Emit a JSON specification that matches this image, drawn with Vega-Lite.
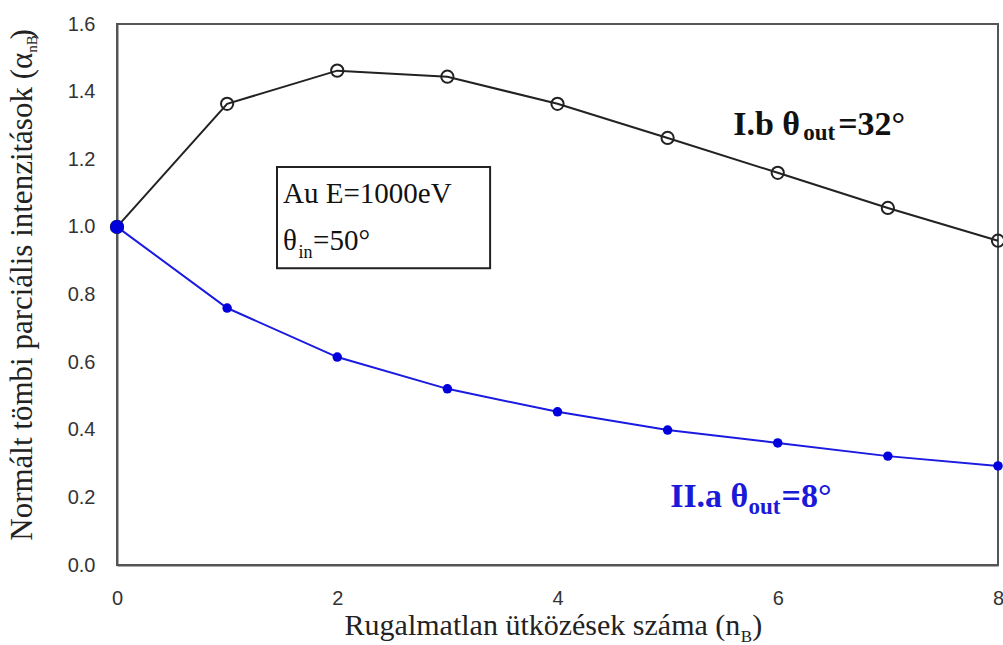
{
  "$schema": "https://vega.github.io/schema/vega-lite/v6.json",
  "width": 881,
  "height": 541,
  "autosize": "none",
  "padding": {"left": 117, "top": 24, "right": 5, "bottom": 80},
  "background": "white",
  "config": {"view": {"stroke": "#555555", "strokeWidth": 2}},
  "datasets": {
    "series": [
      {"x": 0, "y": 1.0, "series": "I.b"},
      {"x": 1, "y": 1.364, "series": "I.b"},
      {"x": 2, "y": 1.462, "series": "I.b"},
      {"x": 3, "y": 1.444, "series": "I.b"},
      {"x": 4, "y": 1.364, "series": "I.b"},
      {"x": 5, "y": 1.263, "series": "I.b"},
      {"x": 6, "y": 1.160, "series": "I.b"},
      {"x": 7, "y": 1.056, "series": "I.b"},
      {"x": 8, "y": 0.959, "series": "I.b"},
      {"x": 0, "y": 1.0, "series": "II.a"},
      {"x": 1, "y": 0.760, "series": "II.a"},
      {"x": 2, "y": 0.615, "series": "II.a"},
      {"x": 3, "y": 0.521, "series": "II.a"},
      {"x": 4, "y": 0.453, "series": "II.a"},
      {"x": 5, "y": 0.399, "series": "II.a"},
      {"x": 6, "y": 0.361, "series": "II.a"},
      {"x": 7, "y": 0.322, "series": "II.a"},
      {"x": 8, "y": 0.293, "series": "II.a"}
    ],
    "yMajor": [
      {"y": 0}, {"y": 0.2}, {"y": 0.4}, {"y": 0.6}, {"y": 0.8}, {"y": 1.0}, {"y": 1.2}, {"y": 1.4}, {"y": 1.6}
    ],
    "yMinor": [
      {"y": 0.04}, {"y": 0.08}, {"y": 0.12}, {"y": 0.16},
      {"y": 0.24}, {"y": 0.28}, {"y": 0.32}, {"y": 0.36},
      {"y": 0.44}, {"y": 0.48}, {"y": 0.52}, {"y": 0.56},
      {"y": 0.64}, {"y": 0.68}, {"y": 0.72}, {"y": 0.76},
      {"y": 0.84}, {"y": 0.88}, {"y": 0.92}, {"y": 0.96},
      {"y": 1.04}, {"y": 1.08}, {"y": 1.12}, {"y": 1.16},
      {"y": 1.24}, {"y": 1.28}, {"y": 1.32}, {"y": 1.36},
      {"y": 1.44}, {"y": 1.48}, {"y": 1.52}, {"y": 1.56}
    ],
    "xMajor": [{"x": 0}, {"x": 2}, {"x": 4}, {"x": 6}, {"x": 8}],
    "box": [{"x": 1.453, "x2": 3.388, "y": 1.177, "y2": 0.878}],
    "boxText": [
      {"x": 1.508, "y": 1.071, "text": "Au E=1000eV"},
      {"x": 1.508, "y": 0.932, "text": "θ"},
      {"x": 1.78, "y": 0.932, "text": "=50°"}
    ],
    "boxSub": [{"x": 1.647, "y": 0.908, "text": "in"}],
    "blackLabel": [
      {"x": 5.595, "y": 1.272, "text": "I.b θ"},
      {"x": 6.549, "y": 1.272, "text": "=32°"}
    ],
    "blackSub": [{"x": 6.231, "y": 1.257, "text": "out"}],
    "blueLabel": [
      {"x": 5.023, "y": 0.1715, "text": "II.a θ"},
      {"x": 6.035, "y": 0.1715, "text": "=8°"}
    ],
    "blueSub": [{"x": 5.735, "y": 0.150, "text": "out"}],
    "xTitle": [
      {"x": 5.66, "y": -0.208, "text": "Rugalmatlan ütközések száma (n"},
      {"x": 5.86, "y": -0.208, "text": ")"}
    ],
    "xTitleSub": [{"x": 5.665, "y": -0.229, "text": "B"}],
    "yTitle": [
      {"x": -0.77, "y": 1.515, "text": "Normált tömbi parciális intenzitások (α"},
      {"x": -0.77, "y": 1.585, "text": ")"}
    ],
    "yTitleSub": [{"x": -0.73, "y": 1.515, "text": "nB"}]
  },
  "encoding": {
    "x": {
      "field": "x", "type": "quantitative",
      "scale": {"domain": [0, 8], "nice": false},
      "axis": {
        "values": [0, 2, 4, 6, 8],
        "format": "d",
        "title": null,
        "grid": false,
        "ticks": false,
        "domainColor": "#555555",
        "domainWidth": 2,
        "labelFont": "Liberation Sans",
        "labelFontSize": 20,
        "labelColor": "#333333",
        "labelPadding": 23,
        "labelFlush": false
      }
    },
    "y": {
      "field": "y", "type": "quantitative",
      "scale": {"domain": [0, 1.6], "nice": false},
      "axis": {
        "values": [0, 0.2, 0.4, 0.6, 0.8, 1.0, 1.2, 1.4, 1.6],
        "format": ".1f",
        "title": null,
        "grid": false,
        "ticks": false,
        "domainColor": "#555555",
        "domainWidth": 2,
        "labelFont": "Liberation Sans",
        "labelFontSize": 20,
        "labelColor": "#333333",
        "labelPadding": 22,
        "labelOverlap": false,
        "labelBound": false
      }
    }
  },
  "layer": [
    {
      "data": {"name": "yMajor"},
      "mark": {"type": "tick", "orient": "horizontal", "size": 19, "thickness": 2, "color": "#555555", "opacity": 1},
      "encoding": {
        "x": {"datum": -0.0863}
      }
    },
    {
      "data": {"name": "yMinor"},
      "mark": {"type": "tick", "orient": "horizontal", "size": 11, "thickness": 2, "color": "#555555", "opacity": 1},
      "encoding": {
        "x": {"datum": -0.041}
      }
    },
    {
      "data": {"name": "xMajor"},
      "mark": {"type": "tick", "orient": "vertical", "size": 15, "thickness": 2, "color": "#555555", "opacity": 1},
      "encoding": {
        "y": {"datum": -0.0222}
      }
    },
    {
      "data": {"name": "series"},
      "mark": {"type": "line", "strokeWidth": 2},
      "encoding": {
        "color": {
          "field": "series", "type": "nominal",
          "scale": {"domain": ["I.b", "II.a"], "range": ["#222222", "#1a1ae0"]},
          "legend": null
        }
      }
    },
    {
      "data": {"name": "series"},
      "transform": [{"filter": "datum.series == 'I.b'"}],
      "mark": {"type": "point", "shape": "circle", "filled": false, "size": 150, "stroke": "#222222", "strokeWidth": 2, "fill": "white", "fillOpacity": 0}
    },
    {
      "data": {"name": "series"},
      "transform": [{"filter": "datum.series == 'II.a' && datum.x > 0"}],
      "mark": {"type": "point", "shape": "circle", "filled": true, "size": 90, "color": "#0000dd", "opacity": 1}
    },
    {
      "data": {"name": "series"},
      "transform": [{"filter": "datum.series == 'II.a' && datum.x == 0"}],
      "mark": {"type": "point", "shape": "circle", "filled": true, "size": 190, "color": "#0000dd", "opacity": 1}
    },
    {
      "data": {"name": "box"},
      "mark": {"type": "rect", "fill": "white", "stroke": "#222222", "strokeWidth": 2},
      "encoding": {
        "x2": {"field": "x2"},
        "y2": {"field": "y2"}
      }
    },
    {
      "data": {"name": "boxText"},
      "mark": {"type": "text", "font": "Liberation Serif", "fontSize": 29, "align": "left", "baseline": "alphabetic", "color": "#111111"},
      "encoding": {"text": {"field": "text"}}
    },
    {
      "data": {"name": "boxSub"},
      "mark": {"type": "text", "font": "Liberation Serif", "fontSize": 18, "align": "left", "baseline": "alphabetic", "color": "#111111"},
      "encoding": {"text": {"field": "text"}}
    },
    {
      "data": {"name": "blackLabel"},
      "mark": {"type": "text", "font": "Liberation Serif", "fontSize": 34, "fontWeight": "bold", "align": "left", "baseline": "alphabetic", "color": "#111111"},
      "encoding": {"text": {"field": "text"}}
    },
    {
      "data": {"name": "blackSub"},
      "mark": {"type": "text", "font": "Liberation Serif", "fontSize": 23, "fontWeight": "bold", "align": "left", "baseline": "alphabetic", "color": "#111111"},
      "encoding": {"text": {"field": "text"}}
    },
    {
      "data": {"name": "blueLabel"},
      "mark": {"type": "text", "font": "Liberation Serif", "fontSize": 34, "fontWeight": "bold", "align": "left", "baseline": "alphabetic", "color": "#1a1ad8"},
      "encoding": {"text": {"field": "text"}}
    },
    {
      "data": {"name": "blueSub"},
      "mark": {"type": "text", "font": "Liberation Serif", "fontSize": 23, "fontWeight": "bold", "align": "left", "baseline": "alphabetic", "color": "#1a1ad8"},
      "encoding": {"text": {"field": "text"}}
    },
    {
      "data": {"name": "xTitle"},
      "mark": {"type": "text", "font": "Liberation Serif", "fontSize": 30, "align": "right", "baseline": "alphabetic", "color": "#222222"},
      "encoding": {"text": {"field": "text"}}
    },
    {
      "data": {"name": "xTitleSub"},
      "mark": {"type": "text", "font": "Liberation Serif", "fontSize": 17, "align": "left", "baseline": "alphabetic", "color": "#222222"},
      "encoding": {"text": {"field": "text"}}
    },
    {
      "data": {"name": "yTitle"},
      "mark": {"type": "text", "font": "Liberation Serif", "fontSize": 31, "angle": 270, "align": "right", "baseline": "alphabetic", "color": "#222222"},
      "encoding": {"text": {"field": "text"}}
    },
    {
      "data": {"name": "yTitleSub"},
      "mark": {"type": "text", "font": "Liberation Serif", "fontSize": 15, "angle": 270, "align": "left", "baseline": "alphabetic", "color": "#222222"},
      "encoding": {"text": {"field": "text"}}
    }
  ]
}
